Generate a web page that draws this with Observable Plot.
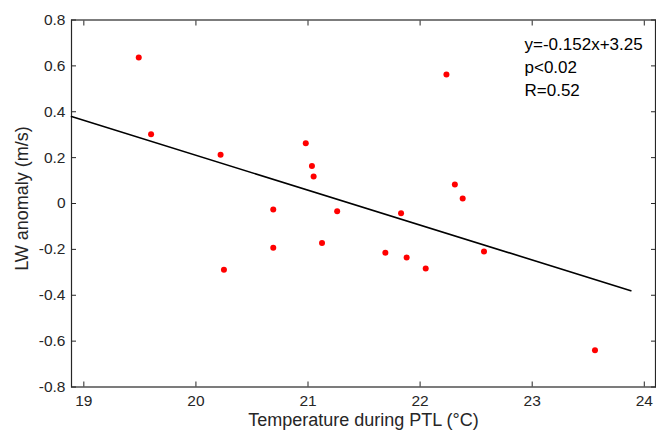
<!DOCTYPE html>
<html>
<head>
<meta charset="utf-8">
<script src="https://cdn.jsdelivr.net/npm/d3@7"></script>
<script src="https://cdn.jsdelivr.net/npm/@observablehq/plot@0.6"></script>
<style>
  html, body { margin: 0; padding: 0; background: #fff; }
  #chart { width: 656px; height: 433px; }
</style>
</head>
<body>
<div id="chart"></div>
<script>
// Temperature during PTL (°C)
const temperature = [19.49, 19.60, 20.22, 20.98, 21.035, 21.05, 20.69, 20.69, 20.25, 21.125,
                     22.235, 22.31, 22.38, 21.26, 21.83, 21.69, 21.88, 22.05, 22.57, 23.56];
// LW anomaly (m/s)
const anomaly = [0.637, 0.302, 0.213, 0.263, 0.163, 0.118, -0.026, -0.193, -0.289, -0.172,
                 0.562, 0.083, 0.022, -0.034, -0.042, -0.215, -0.235, -0.283, -0.209, -0.64];
// regression line end points
const fitX = [18.89, 23.88];
const fitY = [0.379, -0.380];
const xTicks = [19, 20, 21, 22, 23, 24];
const yTicks = [-0.8, -0.6, -0.4, -0.2, 0, 0.2, 0.4, 0.6, 0.8];
const annotation = ["y=-0.152x+3.25", "p<0.02", "R=0.52"];

const points = temperature.map((t, i) => ({t, a: anomaly[i]}));
const fit = fitX.map((x, i) => ({x, y: fitY[i]}));
const fmtY = d => String(Math.round(d * 10) / 10);
const ink = "#262626";

const chart = Plot.plot({
  width: 656,
  height: 433,
  marginLeft: 71,
  marginRight: 1,
  marginTop: 19.5,
  marginBottom: 46.5,
  style: {fontFamily: "'Liberation Sans', Arial, Helvetica, sans-serif", fontSize: "15.5px", color: ink, background: "#fff"},
  x: {domain: [18.89, 24.1], ticks: xTicks},
  y: {domain: [-0.8, 0.8], ticks: yTicks},
  marks: [
    Plot.axisX(xTicks, {anchor: "bottom", tickSize: -5, tickPadding: 13, label: null, stroke: ink, fill: ink, fontSize: 15.5}),
    Plot.axisX(xTicks, {anchor: "top", tickSize: -5, tickFormat: () => "", label: null, stroke: ink}),
    Plot.axisY(yTicks, {anchor: "left", tickSize: -5, tickPadding: 11, tickFormat: fmtY, label: null, stroke: ink, fill: ink, fontSize: 15.5}),
    Plot.axisY(yTicks, {anchor: "right", tickSize: -5, tickFormat: () => "", label: null, stroke: ink}),
    Plot.frame({stroke: ink, strokeWidth: 1.2}),
    Plot.line(fit, {x: "x", y: "y", stroke: "#000", strokeWidth: 1.6}),
    Plot.dot(points, {x: "t", y: "a", r: 3, fill: "#ff0000", stroke: null}),
    Plot.text([annotation.join("\n")], {frameAnchor: "top-left", dx: 453, dy: 14, textAnchor: "start", lineAnchor: "top", lineHeight: 1.35, fontSize: 17, fill: "#000"}),
    Plot.text(["Temperature during PTL (°C)"], {frameAnchor: "bottom", dy: 39, textAnchor: "middle", fontSize: 18, fill: ink}),
    Plot.text(["LW anomaly (m/s)"], {frameAnchor: "left", dx: -49, dy: -5, textAnchor: "middle", rotate: -90, fontSize: 18, fill: ink})
  ]
});
document.getElementById("chart").appendChild(chart);
</script>
</body>
</html>
